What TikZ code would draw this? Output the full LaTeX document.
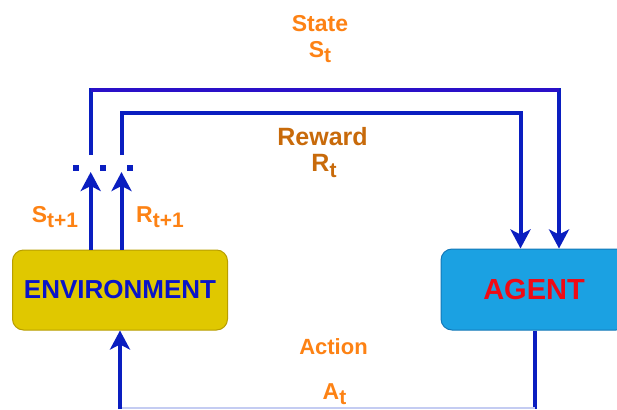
\documentclass[tikz,border=0pt]{standalone}
\usepackage{fontspec}
\setmainfont{Liberation Sans}
\usetikzlibrary{arrows.meta}
\definecolor{flowblue}{HTML}{0A1EC0}
\definecolor{topblue}{HTML}{2A10C8}
\definecolor{envfill}{HTML}{E0C800}
\definecolor{envedge}{HTML}{B89E00}
\definecolor{agentfill}{HTML}{1BA1E2}
\definecolor{agentedge}{HTML}{1378B8}
\definecolor{lblorange}{HTML}{FD8214}
\definecolor{lblbrown}{HTML}{C86A0A}
\definecolor{envtext}{HTML}{0A14C8}
\definecolor{agenttext}{HTML}{F00A14}
\definecolor{baseline}{HTML}{C4CCF2}
\newcommand\lsub[1]{\raisebox{-5.5pt}{\fontsize{21pt}{21pt}\selectfont #1}}
\tikzset{
  flow/.style={draw=flowblue, line width=4pt},
  tip/.style={-{Stealth[length=19pt,width=20pt,inset=5pt]}},
  envbox/.style={draw=envedge, line width=1pt, fill=envfill, rounded corners=11pt,
    minimum width=215pt, minimum height=80pt, text=envtext,
    font=\bfseries\fontsize{26pt}{26pt}\selectfont},
  agentbox/.style={draw=agentedge, line width=1pt, fill=agentfill, rounded corners=11pt,
    minimum width=186pt, minimum height=81pt, text=agenttext,
    font=\bfseries\fontsize{29pt}{29pt}\selectfont},
  lbl/.style={text=lblorange, inner sep=0pt, font=\bfseries\fontsize{23pt}{23pt}\selectfont},
  rlbl/.style={lbl, text=lblbrown, font=\bfseries\fontsize{25pt}{25pt}\selectfont},
  gapdot/.style={fill=flowblue, inner sep=0pt, minimum size=6pt},
}
\begin{document}
\begin{tikzpicture}[x=1pt, y=-1pt]
\useasboundingbox (0,0) rectangle (617,409);

% the two blocks
\node[envbox] (env) at (120,290) {ENVIRONMENT};
\node[agentbox] (agent) at (534,289.5) {AGENT};

% routing points of the feedback loops
\coordinate (sGap) at (90.7,155);
\coordinate (rGap) at (121.5,155);
\coordinate (sTip) at (90.7,172);
\coordinate (rTip) at (121.5,172);
\coordinate (sCorner) at (559,90);
\coordinate (rCorner) at (520.5,113);
\coordinate (aDown) at (535,409);
\coordinate (aUp) at (120,409);
\coordinate (aDownB) at (535,407.5);
\coordinate (aUpB) at (120,407.5);

% gap marks between time steps
\node[gapdot] (g1) at (76,168) {};
\node[gapdot] (g2) at (103,168) {};
\node[gapdot] (g3) at (130,168) {};

% state and reward fed back to the agent
\draw[flow, tip] (sGap) |- (sCorner) -- (sCorner |- agent.north);
\draw[draw=topblue, line width=4pt] (sGap |- sCorner) -- (sCorner);
\draw[flow, tip] (rGap) |- (rCorner) -- (rCorner |- agent.north);

% next state and reward leaving the environment
\draw[flow, tip] (env.north -| sTip) -- (sTip);
\draw[flow, tip] (env.north -| rTip) -- (rTip);

% action from the agent to the environment
\draw[flow] (agent.south -| aDown) -- (aDown);
\draw[draw=baseline, line width=2pt] (aDownB) -- (aUpB);
\draw[flow, tip] (aUp) -- (env.south -| aUp);

% labels
\node[lbl] (stateLbl) at (320,24) {State};
\node[lbl] (stLbl) at (320,52) {S\lsub{t}};
\node[rlbl] (rewardLbl) at (322.5,137) {Reward};
\node[rlbl] (rtLbl) at (324,166) {R\lsub{t}};
\node[lbl] (snextLbl) at (55,217) {S\lsub{t+1}};
\node[lbl] (rnextLbl) at (160,217) {R\lsub{t+1}};
\node[lbl, font=\bfseries\fontsize{22pt}{22pt}\selectfont] (actionLbl) at (333.5,347) {Action};
\node[lbl] (atLbl) at (334.5,394) {A\lsub{t}};
\end{tikzpicture}
\end{document}
